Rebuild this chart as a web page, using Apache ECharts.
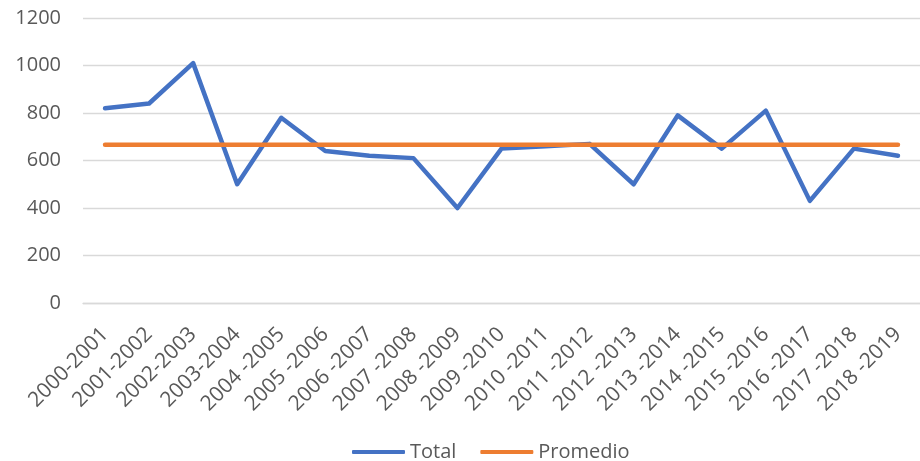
<!DOCTYPE html>
<html>
<head>
    <meta charset="utf-8">
    <script src="https://cdn.jsdelivr.net/npm/echarts@6/dist/echarts.min.js"></script>
    <style>
        html, body { margin: 0; padding: 0; background: #fff; }
        #main { width: 920px; height: 461px; }
    </style>
    <title>Total y promedio</title>
</head>
<body>
    <div id="main"></div>
    <script type="text/javascript">
        var periods = ['2000-2001', '2001-2002', '2002-2003', '2003-2004', '2004 -2005', '2005 -2006',
            '2006 -2007', '2007 -2008', '2008 -2009', '2009 -2010', '2010 -2011', '2011 -2012',
            '2012 -2013', '2013 -2014', '2014 -2015', '2015 -2016', '2016 -2017', '2017 -2018', '2018 -2019'];
        var total = [820, 840, 1010, 500, 780, 640, 620, 610, 400, 650, 660, 670, 500, 790, 650, 810, 430, 650, 620];
        var promedio = [666, 666, 666, 666, 666, 666, 666, 666, 666, 666, 666, 666, 666, 666, 666, 666, 666, 666, 666];
        var yTicks = { min: 0, max: 1200, interval: 200 };

        var myChart = echarts.init(document.getElementById('main'));
        var textColor = '#595959';
        var fontFamily = '"Open Sans", "Noto Sans", sans-serif';

        myChart.setOption({
            animation: false,
            textStyle: { fontFamily: fontFamily },
            grid: {
                left: 83,
                right: -5,
                top: 18,
                bottom: 158
            },
            legend: {
                top: 437,
                left: 347,
                itemWidth: 53,
                itemHeight: 4,
                itemGap: 24,
                icon: 'roundRect',
                textStyle: { color: textColor, fontSize: 20, fontFamily: fontFamily },
                data: ['Total', 'Promedio']
            },
            xAxis: {
                type: 'category',
                data: periods,
                boundaryGap: true,
                axisLine: { lineStyle: { color: '#d9d9d9', width: 1.3 } },
                axisTick: { show: false },
                axisLabel: {
                    rotate: 45,
                    interval: 0,
                    margin: 28,
                    color: textColor,
                    fontSize: 21,
                    fontFamily: fontFamily
                }
            },
            yAxis: {
                type: 'value',
                min: yTicks.min,
                max: yTicks.max,
                interval: yTicks.interval,
                axisLine: { show: false },
                axisTick: { show: false },
                axisLabel: {
                    color: textColor,
                    fontSize: 20,
                    margin: 22,
                    fontFamily: fontFamily,
                    formatter: function (v) { return String(v); }
                },
                splitLine: { lineStyle: { color: '#d9d9d9', width: 1.3 } }
            },
            series: [{
                name: 'Total',
                type: 'line',
                data: total,
                symbol: 'none',
                color: '#4472C4',
                lineStyle: { width: 4.5, cap: 'round', join: 'round' }
            }, {
                name: 'Promedio',
                type: 'line',
                data: promedio,
                symbol: 'none',
                color: '#ED7D31',
                lineStyle: { width: 4.5, cap: 'round' }
            }]
        });
    </script>
</body>
</html>
